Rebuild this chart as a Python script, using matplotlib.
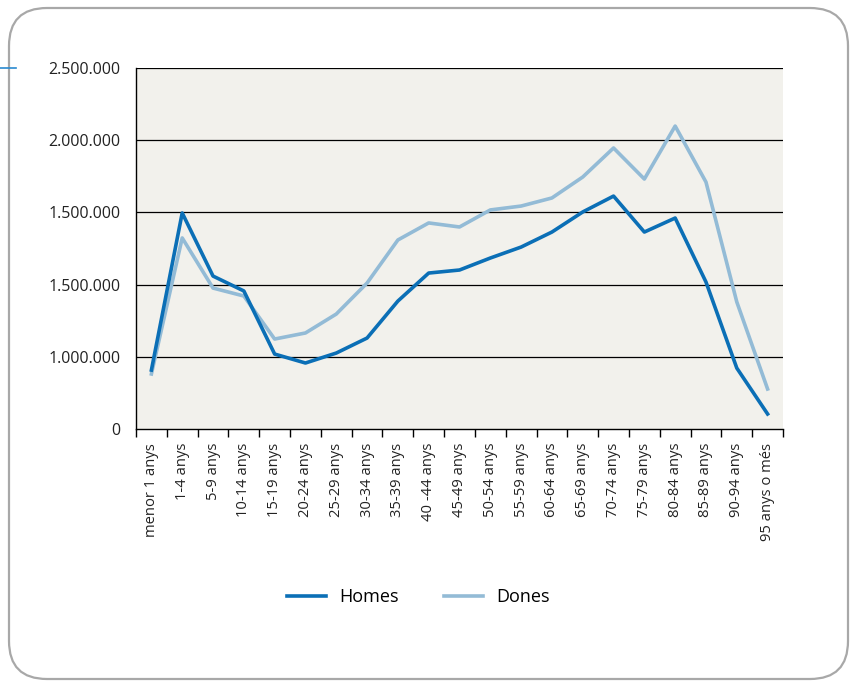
import numpy as np
import matplotlib
matplotlib.use("Agg")
import matplotlib.pyplot as plt
from matplotlib.patches import FancyBboxPatch
from matplotlib.lines import Line2D
from matplotlib.transforms import IdentityTransform

plt.rcParams['font.family'] = ['Open Sans', 'DejaVu Sans']

# age groups
grups = ["menor 1 anys", "1-4 anys", "5-9 anys", "10-14 anys", "15-19 anys",
         "20-24 anys", "25-29 anys", "30-34 anys", "35-39 anys", "40 -44 anys",
         "45-49 anys", "50-54 anys", "55-59 anys", "60-64 anys", "65-69 anys",
         "70-74 anys", "75-79 anys", "80-84 anys", "85-89 anys", "90-94 anys",
         "95 anys o més"]

homes = [408000, 1496000, 1059000, 956000, 519000, 457000, 526000, 630000,
         886000, 1080000, 1101000, 1184000, 1260000, 1364000, 1503000,
         1613000, 1364000, 1461000, 1018000, 422000, 104000]
dones = [381000, 1323000, 976000, 921000, 623000, 665000, 796000, 1011000,
         1309000, 1427000, 1399000, 1517000, 1544000, 1600000, 1745000,
         1946000, 1731000, 2098000, 1710000, 880000, 277000]

y_ticks = [0, 500000, 1000000, 1500000, 2000000, 2500000]
y_labels = ["0", "1.000.000", "1.500.000", "1.500.000", "2.000.000", "2.500.000"]

c_homes = "#0b6fb6"
c_dones = "#93bbd6"

fig = plt.figure(figsize=(8.53, 6.82), dpi=100)

# rounded frame around everything
frame = FancyBboxPatch((9, 3), 839, 671, boxstyle="round,pad=0,rounding_size=38",
                       transform=IdentityTransform(), facecolor="none",
                       edgecolor="#a8a8a8", linewidth=1.6, zorder=-5)
fig.patches.append(frame)
fig.add_artist(Line2D([0, 16], [614, 614], transform=IdentityTransform(),
                      color="#2a8ad0", linewidth=1.2))

ax = fig.add_axes([136/853, 1-429/682, (783-136)/853, (429-68)/682])
ax.set_facecolor("#f2f1ec")
ax.set_zorder(2)

x = np.arange(len(grups))
ax.plot(x, dones, color=c_dones, linewidth=2.6, label="Dones", zorder=3)
ax.plot(x, homes, color=c_homes, linewidth=2.6, label="Homes", zorder=4)

ax.set_xlim(-0.5, len(grups) - 0.5)
ax.set_ylim(0, 2500000)
ax.set_yticks(y_ticks)
ax.set_yticklabels(y_labels, fontsize=11.5, color="#222222")
ax.tick_params(axis="y", length=0, pad=11)
for t in y_ticks[1:]:
    ax.axhline(t, color="black", linewidth=0.9, zorder=1)

ax.set_xticks(x)
ax.set_xticklabels(grups, rotation=90, fontsize=10.6, color="#222222")
ax.set_xticks(np.arange(len(grups) + 1) - 0.5, minor=True)
ax.tick_params(axis="x", which="major", length=0, pad=10)
ax.tick_params(axis="x", which="minor", length=6, width=1, direction="out")

for s in ["top", "right"]:
    ax.spines[s].set_visible(False)
ax.spines["left"].set_linewidth(1)
ax.spines["bottom"].set_linewidth(1)

h = [Line2D([], [], color=c_homes, linewidth=2.6),
     Line2D([], [], color=c_dones, linewidth=2.6)]
fig.legend(h, ["Homes", "Dones"], loc="center", ncol=2, frameon=False,
           bbox_to_anchor=(418/853, 1-597/682), fontsize=13,
           handlelength=2.2, columnspacing=2.5, handletextpad=0.7)

fig.savefig("out.png", dpi=100)
